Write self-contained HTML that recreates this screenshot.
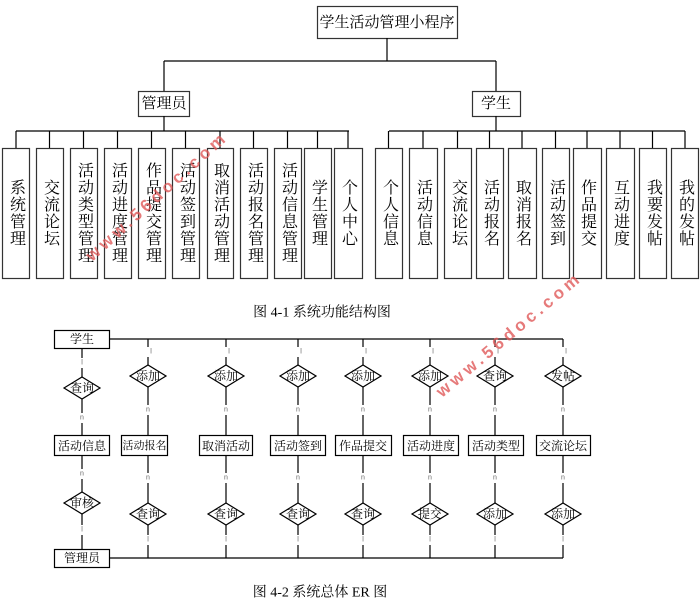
<!DOCTYPE html>
<html><head><meta charset="utf-8"><style>
html,body{margin:0;padding:0;background:#fff;width:700px;height:605px;overflow:hidden}
svg{display:block}
text{font-family:"Liberation Serif","Noto Serif CJK SC","Noto Sans CJK SC",serif;fill:#000}
.v{font-size:16px;writing-mode:vertical-rl;text-anchor:middle;dominant-baseline:central;letter-spacing:1px}
.d{font-size:12px;text-anchor:middle;dominant-baseline:central}
.e{font-size:12px;text-anchor:middle;dominant-baseline:central}
.s{font-size:7px;fill:#666;text-anchor:middle;dominant-baseline:central;font-family:"Liberation Sans",sans-serif}
.wm{font-size:17px;fill:#e05a5a;font-family:"Liberation Sans",sans-serif;font-weight:bold;letter-spacing:4px;opacity:.8}
</style></head><body>
<svg width="700" height="605" viewBox="0 0 700 605" xmlns="http://www.w3.org/2000/svg">
<g stroke="#000" stroke-width="1.2" fill="none">
<rect x="317.5" y="6.5" width="140" height="32" fill="#fff" stroke="#333"/>
<line x1="387" y1="38" x2="387" y2="61"/>
<line x1="164" y1="61" x2="496" y2="61"/>
<line x1="164" y1="61" x2="164" y2="91"/>
<line x1="496" y1="61" x2="496" y2="91"/>
<rect x="138.5" y="91.5" width="51" height="25" fill="#fff" stroke="#333"/>
<rect x="472.5" y="91.5" width="48" height="25" fill="#fff" stroke="#333"/>
<line x1="164" y1="116" x2="164" y2="131"/>
<line x1="496" y1="116" x2="496" y2="131"/>
<line x1="16" y1="131" x2="349" y2="131"/>
<line x1="389" y1="131" x2="685" y2="131"/>
<g>
<line x1="16" y1="131" x2="16" y2="148"/><line x1="49.5" y1="131" x2="49.5" y2="148"/><line x1="83.5" y1="131" x2="83.5" y2="148"/><line x1="117.5" y1="131" x2="117.5" y2="148"/><line x1="151.5" y1="131" x2="151.5" y2="148"/><line x1="185.5" y1="131" x2="185.5" y2="148"/><line x1="220" y1="131" x2="220" y2="148"/><line x1="253.5" y1="131" x2="253.5" y2="148"/><line x1="287.5" y1="131" x2="287.5" y2="148"/><line x1="317.5" y1="131" x2="317.5" y2="148"/><line x1="348" y1="131" x2="348" y2="148"/>
<line x1="388.5" y1="131" x2="388.5" y2="148"/><line x1="423" y1="131" x2="423" y2="148"/><line x1="457.5" y1="131" x2="457.5" y2="148"/><line x1="489.5" y1="131" x2="489.5" y2="148"/><line x1="522" y1="131" x2="522" y2="148"/><line x1="555.5" y1="131" x2="555.5" y2="148"/><line x1="587" y1="131" x2="587" y2="148"/><line x1="620" y1="131" x2="620" y2="148"/><line x1="652.5" y1="131" x2="652.5" y2="148"/><line x1="685" y1="131" x2="685" y2="148"/>
</g>
<g fill="#fff" stroke="#333">
<rect x="2.5" y="148.5" width="27" height="130"/><rect x="36.5" y="148.5" width="27" height="130"/><rect x="70.5" y="148.5" width="27" height="130"/><rect x="104.5" y="148.5" width="27" height="130"/><rect x="138.5" y="148.5" width="27" height="130"/><rect x="172.5" y="148.5" width="27" height="130"/><rect x="207.5" y="148.5" width="26" height="130"/><rect x="240.5" y="148.5" width="27" height="130"/><rect x="274.5" y="148.5" width="27" height="130"/><rect x="304.5" y="148.5" width="27" height="130"/><rect x="334.5" y="148.5" width="28" height="130"/>
<rect x="375.5" y="148.5" width="27" height="130"/><rect x="409.5" y="148.5" width="28" height="130"/><rect x="444.5" y="148.5" width="27" height="130"/><rect x="476.5" y="148.5" width="27" height="130"/><rect x="508.5" y="148.5" width="28" height="130"/><rect x="542.5" y="148.5" width="27" height="130"/><rect x="573.5" y="148.5" width="28" height="130"/><rect x="606.5" y="148.5" width="28" height="130"/><rect x="639.5" y="148.5" width="27" height="130"/><rect x="671.5" y="148.5" width="27" height="130"/>
</g>
</g>
<text x="387" y="23" style="font-size:15px" text-anchor="middle" dominant-baseline="central">学生活动管理小程序</text>
<text x="164" y="104" style="font-size:15px" text-anchor="middle" dominant-baseline="central">管理员</text>
<text x="496" y="104" style="font-size:15px" text-anchor="middle" dominant-baseline="central">学生</text>
<g>
<text class="v" x="16" y="213">系统管理</text><text class="v" x="50" y="213">交流论坛</text><text class="v" x="84" y="213">活动类型管理</text><text class="v" x="118" y="213">活动进度管理</text><text class="v" x="152" y="213">作品提交管理</text><text class="v" x="186" y="213">活动签到管理</text><text class="v" x="220" y="213">取消活动管理</text><text class="v" x="254" y="213">活动报名管理</text><text class="v" x="288" y="213">活动信息管理</text><text class="v" x="318" y="213">学生管理</text><text class="v" x="348" y="213">个人中心</text>
<text class="v" x="389" y="213">个人信息</text><text class="v" x="423" y="213">活动信息</text><text class="v" x="458" y="213">交流论坛</text><text class="v" x="490" y="213">活动报名</text><text class="v" x="522" y="213">取消报名</text><text class="v" x="556" y="213">活动签到</text><text class="v" x="587" y="213">作品提交</text><text class="v" x="620" y="213">互动进度</text><text class="v" x="653" y="213">我要发帖</text><text class="v" x="685" y="213">我的发帖</text>
</g>
<text x="322" y="313" style="font-size:14px" text-anchor="middle" dominant-baseline="central">图 4-1 系统功能结构图</text>

<g stroke="#000" stroke-width="1.2" fill="none">
<line x1="109" y1="339" x2="563" y2="339"/>
<line x1="109" y1="558" x2="563" y2="558"/>
<line x1="82" y1="348" x2="82" y2="549"/>
<line x1="148" y1="339" x2="148" y2="558"/><line x1="226" y1="339" x2="226" y2="558"/><line x1="298" y1="339" x2="298" y2="558"/><line x1="363" y1="339" x2="363" y2="558"/><line x1="430" y1="339" x2="430" y2="558"/><line x1="495" y1="339" x2="495" y2="558"/><line x1="563" y1="339" x2="563" y2="558"/>
</g>
<g fill="#fff">
<rect x="78" y="358" width="8" height="10"/><rect x="78" y="413" width="8" height="10"/><rect x="78" y="469" width="8" height="10"/><rect x="78" y="525" width="8" height="10"/>
<rect x="144" y="347" width="8" height="10"/><rect x="144" y="405" width="8" height="10"/><rect x="144" y="473" width="8" height="10"/><rect x="144" y="535" width="8" height="10"/>
<rect x="222" y="347" width="8" height="10"/><rect x="222" y="405" width="8" height="10"/><rect x="222" y="473" width="8" height="10"/><rect x="222" y="535" width="8" height="10"/>
<rect x="294" y="347" width="8" height="10"/><rect x="294" y="405" width="8" height="10"/><rect x="294" y="473" width="8" height="10"/><rect x="294" y="535" width="8" height="10"/>
<rect x="359" y="347" width="8" height="10"/><rect x="359" y="405" width="8" height="10"/><rect x="359" y="473" width="8" height="10"/><rect x="359" y="535" width="8" height="10"/>
<rect x="426" y="347" width="8" height="10"/><rect x="426" y="405" width="8" height="10"/><rect x="426" y="473" width="8" height="10"/><rect x="426" y="535" width="8" height="10"/>
<rect x="491" y="347" width="8" height="10"/><rect x="491" y="405" width="8" height="10"/><rect x="491" y="473" width="8" height="10"/><rect x="491" y="535" width="8" height="10"/>
<rect x="559" y="347" width="8" height="10"/><rect x="559" y="405" width="8" height="10"/><rect x="559" y="473" width="8" height="10"/><rect x="559" y="535" width="8" height="10"/>
</g>
<g>
<text class="s" x="82" y="363">l</text><text class="s" x="82" y="418">n</text><text class="s" x="82" y="474">n</text><text class="s" x="82" y="530">l</text>
<text class="s" x="151" y="352">l</text><text class="s" x="148" y="410">n</text><text class="s" x="148" y="478">n</text><text class="s" x="148" y="540">l</text>
<text class="s" x="229" y="352">l</text><text class="s" x="226" y="410">n</text><text class="s" x="226" y="478">n</text><text class="s" x="226" y="540">l</text>
<text class="s" x="301" y="352">l</text><text class="s" x="298" y="410">n</text><text class="s" x="298" y="478">n</text><text class="s" x="298" y="540">l</text>
<text class="s" x="366" y="352">l</text><text class="s" x="363" y="410">n</text><text class="s" x="363" y="478">n</text><text class="s" x="363" y="540">l</text>
<text class="s" x="433" y="352">l</text><text class="s" x="430" y="410">n</text><text class="s" x="430" y="478">n</text><text class="s" x="430" y="540">l</text>
<text class="s" x="498" y="352">l</text><text class="s" x="495" y="410">n</text><text class="s" x="495" y="478">n</text><text class="s" x="495" y="540">l</text>
<text class="s" x="566" y="352">l</text><text class="s" x="563" y="410">n</text><text class="s" x="563" y="478">n</text><text class="s" x="563" y="540">l</text>
</g>
<g stroke="#000" stroke-width="1.2" fill="#fff">
<rect x="54.5" y="330.5" width="55" height="18"/>
<rect x="54.5" y="549.5" width="55" height="18"/>
<rect x="54.5" y="435.5" width="55" height="20"/>
<rect x="121.5" y="435.5" width="46" height="20"/><rect x="199.5" y="435.5" width="53" height="20"/><rect x="270.5" y="435.5" width="55" height="20"/><rect x="335.5" y="435.5" width="56" height="20"/><rect x="403.5" y="435.5" width="55" height="20"/><rect x="468.5" y="435.5" width="55" height="20"/><rect x="536.5" y="435.5" width="54" height="20"/>
<polygon points="64,388 82,377 100,388 82,399"/><polygon points="64,503 82,492 100,503 82,514"/>
<polygon points="130,376 148,365 166,376 148,387"/><polygon points="208,376 226,365 244,376 226,387"/><polygon points="280,376 298,365 316,376 298,387"/><polygon points="345,376 363,365 381,376 363,387"/><polygon points="412,376 430,365 448,376 430,387"/><polygon points="477,376 495,365 513,376 495,387"/><polygon points="545,376 563,365 581,376 563,387"/>
<polygon points="130,514 148,503 166,514 148,525"/><polygon points="208,514 226,503 244,514 226,525"/><polygon points="280,514 298,503 316,514 298,525"/><polygon points="345,514 363,503 381,514 363,525"/><polygon points="412,514 430,503 448,514 430,525"/><polygon points="477,514 495,503 513,514 495,525"/><polygon points="545,514 563,503 581,514 563,525"/>
</g>
<text class="e" x="82" y="339">学生</text><text class="e" x="82" y="558">管理员</text>
<text class="e" x="82" y="446">活动信息</text><text class="e" x="144.5" y="446" style="font-size:11px">活动报名</text><text class="e" x="226" y="446">取消活动</text><text class="e" x="298" y="446">活动签到</text><text class="e" x="363" y="446">作品提交</text><text class="e" x="431" y="446">活动进度</text><text class="e" x="496" y="446">活动类型</text><text class="e" x="563" y="446">交流论坛</text>
<text class="d" x="82" y="388">查询</text><text class="d" x="82" y="503">审核</text>
<text class="d" x="148" y="376">添加</text><text class="d" x="226" y="376">添加</text><text class="d" x="298" y="376">添加</text><text class="d" x="363" y="376">添加</text><text class="d" x="430" y="376">添加</text><text class="d" x="495" y="376">查询</text><text class="d" x="563" y="376">发帖</text>
<text class="d" x="148" y="514">查询</text><text class="d" x="226" y="514">查询</text><text class="d" x="298" y="514">查询</text><text class="d" x="363" y="514">查询</text><text class="d" x="430" y="514">提交</text><text class="d" x="495" y="514">添加</text><text class="d" x="563" y="514">添加</text>
<text x="320" y="593" style="font-size:14px" text-anchor="middle" dominant-baseline="central">图 4-2 系统总体 ER 图</text>
<text class="wm" x="0" y="0" transform="translate(92,262) rotate(-42)">www.56doc.com</text>
<text class="wm" x="0" y="0" transform="translate(442,398) rotate(-40)">www.56doc.com</text>
</svg>
</body></html>
